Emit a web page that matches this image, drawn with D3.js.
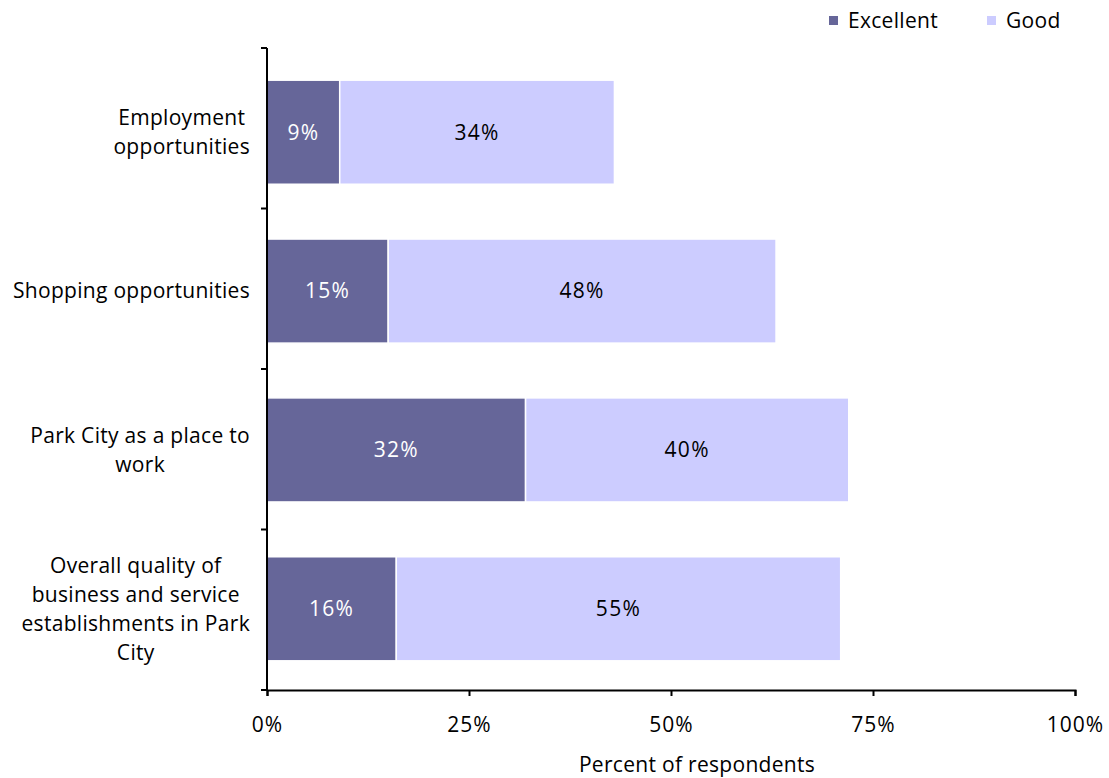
<!DOCTYPE html>
<html>
<head>
<meta charset="utf-8">
<script src="https://cdn.jsdelivr.net/npm/d3@7"></script>
<style>
  html, body { margin: 0; padding: 0; background: #fff; }
  svg { display: block; font-family: "Open Sans", "Lato", sans-serif; }
</style>
</head>
<body>
<svg id="chart" width="1109" height="778"></svg>
<script>
// Ratings of Park City's economy, share of respondents
const categories = [
  "Employment opportunities",
  "Shopping opportunities",
  "Park City as a place to work",
  "Overall quality of business and service establishments in Park City"
];
const categoryLines = [
  ["Employment", "opportunities"],
  ["Shopping opportunities"],
  ["Park City as a place to", "work"],
  ["Overall quality of", "business and service", "establishments in Park", "City"]
];
const excellent = [9, 15, 32, 16];
const good = [34, 48, 40, 55];
const seriesNames = ["Excellent", "Good"];
const seriesColors = ["#666699", "#CCCCFF"];
const xTicks = [0, 25, 50, 75, 100];

const FONT = 21;
const LS = 0.3;

const svg = d3.select("#chart");
const margin = { left: 267, right: 34, top: 49, bottom: 88 };
const W = 1109, H = 778;

const x = d3.scaleLinear().domain([0, 100]).range([margin.left, W - margin.right]);
const y = d3.scaleBand().domain(categories).range([margin.top, H - margin.bottom]).paddingInner(0.345).paddingOuter(0.19);

const rows = categories.map((c, i) => ({ cat: c, values: [excellent[i], good[i]] }));

// Stacked bars
const g = svg.append("g");
rows.forEach((r, i) => {
  let start = 0;
  r.values.forEach((v, s) => {
    g.append("rect")
      .attr("x", x(start))
      .attr("y", y(r.cat) + 1)
      .attr("width", x(start + v) - x(start))
      .attr("height", y.bandwidth())
      .attr("fill", seriesColors[s])
      .attr("stroke", "#fff")
      .attr("stroke-width", 1.5);
    g.append("text")
      .attr("x", x(start + v / 2))
      .attr("y", y(r.cat) + 1 + y.bandwidth() / 2)
      .attr("dy", "0.35em")
      .attr("text-anchor", "middle")
      .attr("font-size", FONT)
      .attr("letter-spacing", 1.3)
      .attr("fill", s === 0 ? "#fff" : "#000")
      .text(v + "%");
    start += v;
  });
});

// Y axis line with boundary ticks
const yTop = margin.top - 1, yBot = H - margin.bottom;
svg.append("line")
  .attr("x1", margin.left).attr("x2", margin.left)
  .attr("y1", yTop).attr("y2", yBot)
  .attr("stroke", "#000").attr("stroke-width", 2);
const yBounds = d3.range(categories.length + 1).map(i => yTop + (yBot - yTop) * i / categories.length);
svg.selectAll(".ytick").data(yBounds).join("line")
  .attr("x1", margin.left - 6).attr("x2", margin.left)
  .attr("y1", d => d).attr("y2", d => d)
  .attr("stroke", "#000").attr("stroke-width", 2);

// X axis
const xAxis = d3.axisBottom(x).tickValues(xTicks).tickSize(6).tickFormat(d => d + "%");
const xg = svg.append("g").attr("transform", `translate(0,${yBot})`).call(xAxis);
xg.select(".domain").attr("stroke", "#000").attr("stroke-width", 2);
xg.selectAll(".tick line").attr("stroke", "#000").attr("stroke-width", 2);
xg.selectAll(".tick text")
  .attr("y", 27)
  .attr("font-size", FONT)
  .attr("letter-spacing", 1)
  .attr("fill", "#000")
  .attr("font-family", "'Open Sans', Lato, sans-serif");

svg.append("text")
  .attr("x", x(50) + 26)
  .attr("y", 772)
  .attr("text-anchor", "middle")
  .attr("font-size", FONT)
  .attr("letter-spacing", LS)
  .attr("fill", "#000")
  .text("Percent of respondents");

// Category labels: lines centred within a block right-aligned to the axis
const labelRight = 250;
const lineH = 29;
categoryLines.forEach((lines, i) => {
  const cy = y(categories[i]) + 1 + y.bandwidth() / 2;
  const t = svg.append("text").attr("font-size", FONT).attr("letter-spacing", LS)
    .attr("fill", "#000").attr("text-anchor", "middle");
  const spans = lines.map((l, k) => t.append("tspan")
    .attr("y", cy + (k - (lines.length - 1) / 2) * lineH)
    .attr("dy", "0.35em")
    .text(l));
  const maxW = d3.max(spans, s => s.node().getComputedTextLength());
  spans.forEach(s => s.attr("x", labelRight - maxW / 2));
});

// Legend
const legendItems = [
  { name: seriesNames[0], color: seriesColors[0], x: 829 },
  { name: seriesNames[1], color: seriesColors[1], x: 987 }
];
legendItems.forEach(it => {
  svg.append("rect").attr("x", it.x).attr("y", 16).attr("width", 9).attr("height", 9).attr("fill", it.color);
  svg.append("text").attr("x", it.x + 19).attr("y", 21).attr("dy", "0.35em")
    .attr("font-size", FONT).attr("letter-spacing", LS).attr("fill", "#000").text(it.name);
});
</script>
</body>
</html>
